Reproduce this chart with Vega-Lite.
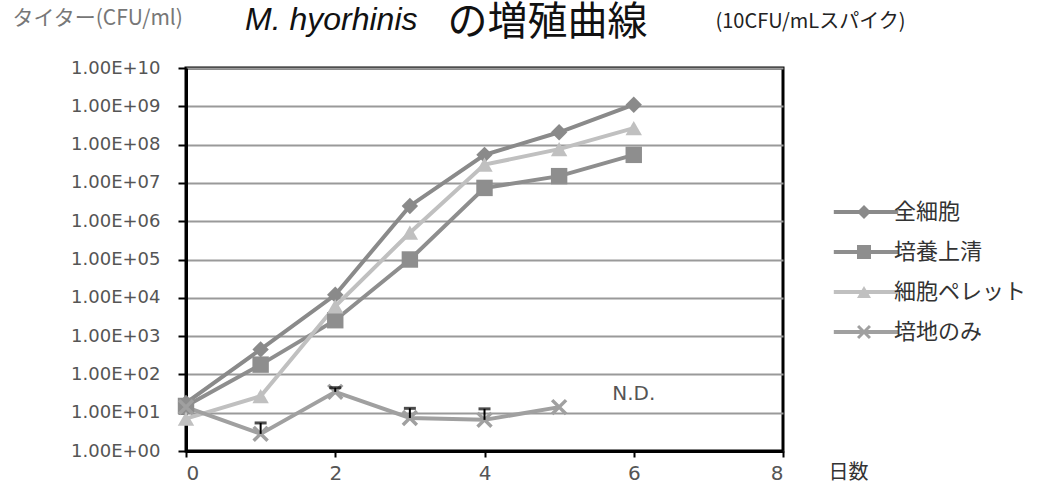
{
  "$schema": "https://vega.github.io/schema/vega-lite/v6.json",
  "width": 597,
  "height": 383,
  "autosize": {"type": "none"},
  "padding": {"left": 186, "top": 68, "right": 277, "bottom": 43},
  "background": "white",
  "config": {"view": {"stroke": "black", "strokeWidth": 3}, "font": "DejaVu Sans"},
  "title": {"text": "M. hyorhinis", "anchor": "start", "frame": "group", "font": "Liberation Sans", "fontStyle": "italic", "fontWeight": "normal", "fontSize": 32, "color": "#111", "dx": 59, "dy": 64, "baseline": "alphabetic"},
  "datasets": {
    "growth": [
      {"day": 0, "titer": 18, "series": "全細胞"},
      {"day": 1, "titer": 450, "series": "全細胞"},
      {"day": 2, "titer": 12000, "series": "全細胞"},
      {"day": 3, "titer": 2500000, "series": "全細胞"},
      {"day": 4, "titer": 54000000, "series": "全細胞"},
      {"day": 5, "titer": 210000000, "series": "全細胞"},
      {"day": 6, "titer": 1100000000, "series": "全細胞"},
      {"day": 0, "titer": 15, "series": "培養上清"},
      {"day": 1, "titer": 180, "series": "培養上清"},
      {"day": 2, "titer": 2600, "series": "培養上清"},
      {"day": 3, "titer": 100000, "series": "培養上清"},
      {"day": 4, "titer": 7400000, "series": "培養上清"},
      {"day": 5, "titer": 15000000, "series": "培養上清"},
      {"day": 6, "titer": 54000000, "series": "培養上清"},
      {"day": 0, "titer": 7, "series": "細胞ペレット"},
      {"day": 1, "titer": 27, "series": "細胞ペレット"},
      {"day": 2, "titer": 6000, "series": "細胞ペレット"},
      {"day": 3, "titer": 500000, "series": "細胞ペレット"},
      {"day": 4, "titer": 30000000, "series": "細胞ペレット"},
      {"day": 5, "titer": 76000000, "series": "細胞ペレット"},
      {"day": 6, "titer": 270000000, "series": "細胞ペレット"},
      {"day": 0, "titer": 14, "series": "培地のみ"},
      {"day": 1, "titer": 2.8, "series": "培地のみ"},
      {"day": 2, "titer": 35, "series": "培地のみ"},
      {"day": 3, "titer": 7.3, "series": "培地のみ"},
      {"day": 4, "titer": 6.5, "series": "培地のみ"},
      {"day": 5, "titer": 14, "series": "培地のみ"}
    ],
    "errors": [
      {"day": 1, "titer": 2.8, "upper": 5.4},
      {"day": 2, "titer": 35, "upper": 45},
      {"day": 3, "titer": 7.3, "upper": 13},
      {"day": 4, "titer": 6.5, "upper": 12.6}
    ],
    "notes": [
      {"day": 6, "titer": 31, "note": "N.D."}
    ]
  },
  "layer": [
    {
      "layer": [
        {
          "data": {"name": "growth"},
          "mark": {"type": "line", "strokeWidth": 4},
          "encoding": {
            "x": {
              "field": "day", "type": "quantitative",
              "scale": {"domain": [0, 8], "nice": false, "zero": false},
              "axis": {
                "values": [0, 2, 4, 6, 8], "format": "d", "grid": false,
                "domainColor": "black", "domainWidth": 3,
                "tickColor": "black", "tickWidth": 2, "tickSize": 6,
                "labelFont": "DejaVu Sans", "labelFontSize": 20, "labelColor": "#555", "labelPadding": 6,
                "title": "日数", "titleFont": "Noto Sans CJK JP", "titleFontSize": 20, "titleFontWeight": "normal", "titleColor": "#333",
                "titleX": 642, "titleY": 21, "titleAlign": "left", "titleBaseline": "middle", "titleAngle": 0
              }
            },
            "y": {
              "field": "titer", "type": "quantitative",
              "scale": {"type": "log", "domain": [1, 10000000000], "nice": false},
              "axis": {
                "values": [1, 10, 100, 1000, 10000, 100000, 1000000, 10000000, 100000000, 1000000000, 10000000000],
                "labelExpr": "'1.00E+' + (round(log(datum.value)/LN10) < 10 ? '0' : '') + round(log(datum.value)/LN10)",
                "grid": true, "gridColor": "#9a9a9a", "gridWidth": 2,
                "domainColor": "black", "domainWidth": 3,
                "tickColor": "black", "tickWidth": 2, "tickSize": 8,
                "labelFont": "DejaVu Sans", "labelFontSize": 18, "labelColor": "#555", "labelPadding": 18,
                "title": "タイター(CFU/ml)", "titleFont": "Noto Sans CJK JP", "titleFontSize": 21, "titleFontWeight": "normal", "titleColor": "#777",
                "titleX": -174, "titleY": -50, "titleAlign": "left", "titleBaseline": "middle", "titleAngle": 0
              }
            },
            "stroke": {
              "field": "series", "type": "nominal",
              "scale": {"domain": ["全細胞", "培養上清", "細胞ペレット", "培地のみ"], "range": ["#8a8a8a", "#8e8e8e", "#c0c0c0", "#a0a0a0"]},
              "legend": {
                "orient": "none", "legendX": 669, "legendY": 133, "title": null, "padding": 0,
                "labelFont": "Noto Sans CJK JP", "labelFontSize": 22, "labelColor": "#333", "labelOffset": 17,
                "rowPadding": 18, "symbolSize": 196, "symbolType": "M-4.6,0H4.6", "symbolStrokeWidth": 4
              }
            }
          }
        },
        {
          "data": {"name": "growth"},
          "mark": {"type": "point", "filled": true, "opacity": 1, "size": 270},
          "encoding": {
            "x": {"field": "day", "type": "quantitative"},
            "y": {"field": "titer", "type": "quantitative"},
            "color": {
              "field": "series", "type": "nominal",
              "scale": {"domain": ["全細胞", "培養上清", "細胞ペレット", "培地のみ"], "range": ["#8a8a8a", "#8e8e8e", "#c0c0c0", "#a0a0a0"]},
              "legend": {
                "orient": "right", "offset": -186, "padding": 133, "title": null,
                "labelFont": "Noto Sans CJK JP", "labelFontSize": 22, "labelOpacity": 0, "labelOffset": 17,
                "rowPadding": 18, "symbolSize": 196
              }
            },
            "shape": {
              "field": "series", "type": "nominal",
              "scale": {"domain": ["全細胞", "培養上清", "細胞ペレット", "培地のみ"], "range": ["diamond", "square", "triangle-up", "M-1,-0.7L-0.7,-1L1,0.7L0.7,1Z M1,-0.7L-0.7,1L-1,0.7L0.7,-1Z"]},
              "legend": {
                "orient": "right", "offset": -186, "padding": 133, "title": null,
                "labelFont": "Noto Sans CJK JP", "labelFontSize": 22, "labelOpacity": 0, "labelOffset": 17,
                "rowPadding": 18, "symbolSize": 196
              }
            }
          }
        },
        {
          "data": {"name": "errors"},
          "mark": {"type": "rule", "color": "black", "strokeWidth": 2},
          "encoding": {
            "x": {"field": "day", "type": "quantitative"},
            "y": {"field": "titer", "type": "quantitative"},
            "y2": {"field": "upper"}
          }
        },
        {
          "data": {"name": "errors"},
          "mark": {"type": "tick", "orient": "horizontal", "color": "black", "size": 12, "thickness": 3},
          "encoding": {
            "x": {"field": "day", "type": "quantitative"},
            "y": {"field": "upper", "type": "quantitative"}
          }
        },
        {
          "data": {"name": "notes"},
          "mark": {"type": "text", "align": "center", "baseline": "middle", "fontSize": 20, "font": "DejaVu Sans", "color": "#555"},
          "encoding": {
            "x": {"field": "day", "type": "quantitative"},
            "y": {"field": "titer", "type": "quantitative"},
            "text": {"field": "note"}
          }
        }
      ]
    },
    {
      "data": {"name": "notes"},
      "mark": {"type": "point", "opacity": 0},
      "encoding": {
        "x": {
          "field": "day", "type": "quantitative",
          "scale": {"domain": [0, 8], "nice": false, "zero": false},
          "axis": {
            "orient": "top", "domain": false, "ticks": false, "labels": false, "grid": false,
            "title": "の増殖曲線", "titleFont": "Noto Sans CJK JP", "titleFontSize": 40, "titleFontWeight": "normal", "titleColor": "#111",
            "titleX": 261, "titleY": -34, "titleAlign": "left", "titleBaseline": "alphabetic", "titleAngle": 0
          }
        },
        "y": {
          "field": "titer", "type": "quantitative",
          "scale": {"type": "log", "domain": [1, 10000000000], "nice": false},
          "axis": {
            "orient": "right", "domain": false, "ticks": false, "labels": false, "grid": false,
            "title": "(10CFU/mLスパイク)", "titleFont": "Noto Sans CJK JP", "titleFontSize": 20, "titleFontWeight": "normal", "titleColor": "#222",
            "titleX": -68, "titleY": -41, "titleAlign": "left", "titleBaseline": "alphabetic", "titleAngle": 0
          }
        }
      }
    }
  ],
  "resolve": {"axis": {"x": "independent", "y": "independent"}}
}
